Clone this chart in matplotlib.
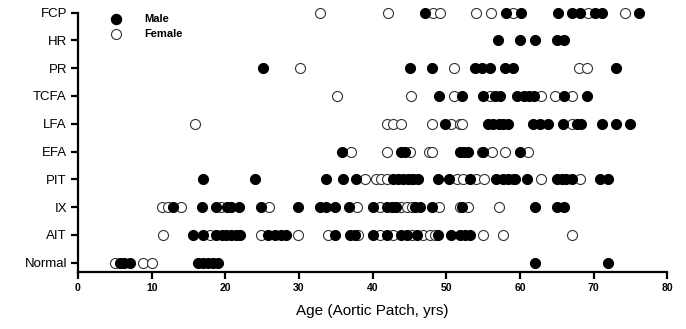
import numpy as np
import matplotlib
matplotlib.use("Agg")
import matplotlib.pyplot as plt

categories = ["Normal", "AIT", "IX", "PIT", "EFA", "LFA", "TCFA", "PR", "HR", "FCP"]

# ages (years), per category
male = {
    "FCP": [47.1, 58.1, 60.1, 65.1, 67.1, 68.2, 70.2, 71.2, 76.2],
    "HR": [57.0, 60.0, 62.0, 65.0, 66.0],
    "PR": [25.1, 45.1, 48.1, 53.9, 54.9, 56.0, 58.0, 59.0, 73.0],
    "TCFA": [49.0, 52.1, 55.0, 56.6, 57.3, 59.6, 60.5, 61.2, 61.9, 66.0, 69.1],
    "LFA": [49.8, 55.7, 56.4, 57.1, 57.7, 58.4, 61.8, 62.7, 63.8, 65.9, 67.7, 68.3,
            71.1, 73.0, 75.0],
    "EFA": [35.8, 43.8, 44.4, 51.8, 52.4, 53.0, 55.0, 60.0],
    "PIT": [17.0, 24.0, 33.7, 36.0, 37.8, 42.8, 43.5, 44.1, 44.8, 45.5, 46.2, 48.9,
            50.3, 53.2, 56.8, 57.7, 58.4, 59.3, 61.0, 65.0, 65.7, 66.3, 67.0, 70.9, 72.0],
    "IX": [12.9, 16.8, 18.8, 20.2, 20.8, 21.8, 24.9, 29.9, 32.8, 33.7, 34.9, 36.8,
           40.0, 41.9, 42.6, 43.2, 45.7, 46.4, 48.0, 52.2, 62.0, 65.0, 66.0],
    "AIT": [15.6, 17.0, 18.8, 19.5, 20.1, 20.8, 21.5, 22.0, 25.8, 26.7, 27.6, 28.3,
            34.9, 36.9, 37.6, 40.0, 41.9, 43.9, 44.6, 46.0, 48.9, 50.7, 51.9, 52.6, 53.2],
    "Normal": [5.7, 6.3, 7.0, 16.3, 17.0, 17.6, 18.3, 19.0, 62.0, 72.0],
}
female = {
    "FCP": [32.9, 42.1, 48.2, 49.2, 54.0, 56.1, 59.1, 69.2, 74.2],
    "HR": [],
    "PR": [30.1, 51.1, 68.0, 69.1],
    "TCFA": [35.1, 45.2, 51.1, 55.9, 62.9, 64.8, 67.0],
    "LFA": [15.9, 41.9, 42.8, 43.8, 48.0, 50.7, 51.8, 52.1, 67.0],
    "EFA": [37.0, 41.9, 45.1, 47.7, 48.1, 54.8, 56.2, 58.0, 61.1],
    "PIT": [38.9, 40.5, 41.2, 41.9, 45.3, 51.4, 52.3, 54.1, 55.1, 59.1, 62.9, 68.1],
    "IX": [11.4, 12.2, 14.0, 19.4, 25.9, 37.9, 41.0, 43.9, 44.6, 45.3, 49.0, 51.8,
           53.0, 57.1],
    "AIT": [11.6, 17.9, 24.9, 29.9, 34.0, 38.0, 41.0, 42.8, 45.3, 46.9, 47.8, 48.5,
            55.0, 57.7, 67.0],
    "Normal": [5.0, 8.8, 10.0],
}

plt.rcParams['font.family'] = ['Liberation Sans', 'DejaVu Sans']

fig = plt.figure(figsize=(6.86, 3.29), dpi=100)
ax = fig.add_axes([0.1137, 0.1733, 0.8590, 0.7887])

for i, cat in enumerate(categories):
    m = male[cat]
    f = female[cat]
    ax.plot(f, [i] * len(f), 'o', ms=7.2, mfc='white', mec='#333333', mew=0.8,
            clip_on=False, zorder=3)
    ax.plot(m, [i] * len(m), 'o', ms=7.2, mfc='black', mec='black', mew=0.8,
            clip_on=False, zorder=4)

# legend drawn by hand like the original
ax.plot([5.1], [8.75], 'o', ms=7.2, mfc='black', mec='black', clip_on=False)
ax.plot([5.1], [8.22], 'o', ms=7.2, mfc='white', mec='#333333', mew=0.8, clip_on=False)
ax.text(9.0, 8.75, "Male", fontsize=8, fontweight='bold', va='center')
ax.text(9.0, 8.22, "Female", fontsize=8, fontweight='bold', va='center')

ax.set_xlim(0, 80)
ax.set_ylim(-0.33, 9)
ax.set_xticks(np.arange(0, 81, 10))
ax.set_yticks(range(len(categories)))
ax.set_yticklabels(categories, fontsize=9.5)
for lab in ax.get_xticklabels():
    lab.set_fontweight('bold')
    lab.set_fontsize(7.5)

ax.spines['top'].set_visible(False)
ax.spines['right'].set_visible(False)
ax.spines['left'].set_linewidth(1.6)
ax.spines['bottom'].set_linewidth(1.6)
ax.tick_params(axis='both', direction='out', length=5, width=1.6, pad=3)
ax.set_xlabel("Age (Aortic Patch, yrs)", fontsize=11, labelpad=8)

fig.savefig("out.png", dpi=100)
